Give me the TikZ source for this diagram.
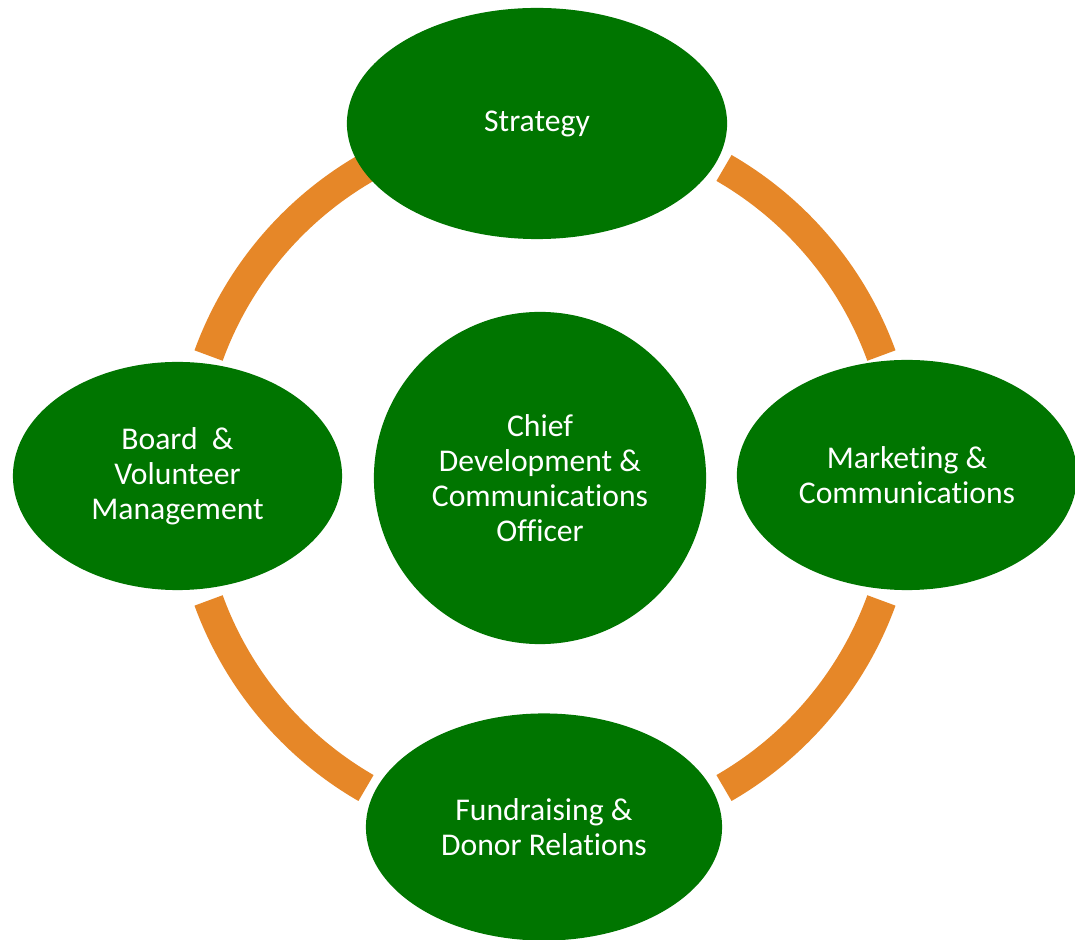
\documentclass[tikz,border=0pt]{standalone}
\usepackage{fontspec}
\setmainfont[Ligatures=NoCommon]{Carlito}
\usetikzlibrary{shapes.geometric}
\definecolor{leafgreen}{RGB}{0,117,0}
\definecolor{ringorange}{RGB}{230,135,40}

\begin{document}
\begin{tikzpicture}[x=0.01cm,y=0.01cm,
  area/.style={ellipse,fill=leafgreen,text=white,align=center,inner sep=0pt,
    font=\fontsize{9}{10}\selectfont},
  ring/.style={draw=ringorange,line width=0.3cm}]

% Page
\clip (0,0) rectangle (1075,-940);
\fill[white] (0,0) rectangle (1075,-940);

% Orange ring pieces
\coordinate (hub) at (545,-478);
\foreach \s/\e in {20/60,120/160,200/240,300/340}
  \draw[ring] (hub) ++(\s:358) arc[start angle=\s,end angle=\e,radius=358];

% Outer areas
\node[area,minimum width=3.8cm,minimum height=2.31cm] (strategy) at (537,-123.5) {Strategy};
\node[area,minimum width=3.4cm,minimum height=2.3cm] (marketing) at (907,-475) {Marketing \&\\Communications};
\node[area,minimum width=3.56cm,minimum height=2.27cm] (fundraising) at (544,-827) {Fundraising \&\\Donor Relations};
\node[area,minimum width=3.29cm,minimum height=2.28cm] (board) at (177.5,-476) {Board~~\&\\Volunteer\\Management};

% Centre
\node[area,circle,minimum size=3.32cm] (officer) at (540,-478) {Chief\\Development \&\\Communications\\Officer};

\end{tikzpicture}
\end{document}
